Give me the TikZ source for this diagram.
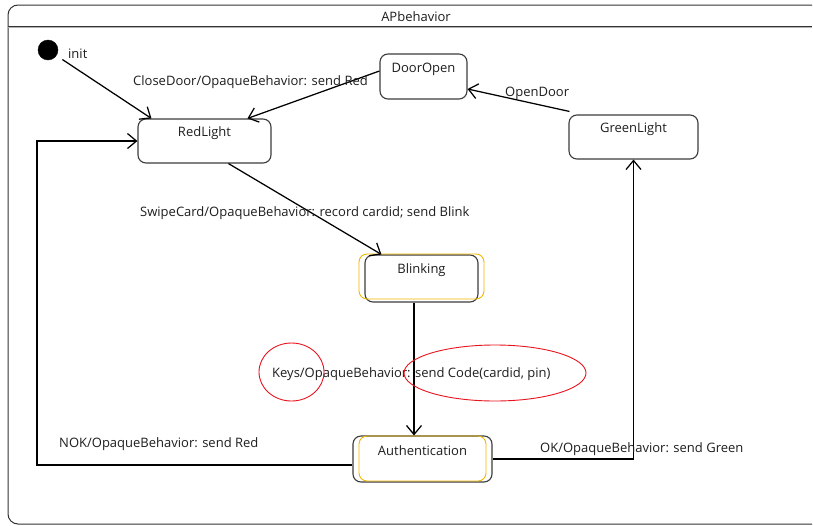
\documentclass[tikz,border=0pt]{standalone}
\usepackage{fontspec}
\setmainfont{Open Sans}
\usetikzlibrary{arrows.meta,calc}
\definecolor{frameC}{HTML}{333333}
\definecolor{boxC}{HTML}{3C3C3C}
\definecolor{txtC}{HTML}{1E1E1E}
\definecolor{yel}{HTML}{F2B800}
\definecolor{annot}{HTML}{E8141E}
\tikzset{
  stbox/.style={draw=boxC, line width=1.1pt, rounded corners=8pt, fill=white, inner sep=0pt},
  hl/.style={draw=yel, line width=0.9pt, rounded corners=8pt, inner sep=0pt},
  lbl/.style={font=\fontsize{13}{15}\selectfont, text=txtC, inner sep=0pt, anchor=west},
  tr/.style={draw=black, line width=1.25pt, -{Straight Barb[length=9pt,width=15pt,line width=1.25pt]}},
  ann/.style={draw=annot, line width=0.9pt}
}
\begin{document}
\begin{tikzpicture}[x=1pt,y=-1pt]
\useasboundingbox (0,0) rectangle (813,525);
\fill[white] (0,0) rectangle (813,525);
% frame
\draw[frameC, line width=1pt, rounded corners=10pt] (812,5) -- (8,5) -- (8,524) -- (812,524);
\draw[gray!60, line width=2pt] (8,26.8) -- (812,26.8);
\draw[frameC, line width=0.8pt] (8,26) -- (812,26);
\node[lbl, anchor=center] (title) at (416,16.5) {APbehavior};
% states
\node[draw, fill=black, circle, minimum size=20pt, inner sep=0pt] (init) at (48,50) {};
\node[lbl] (initlbl) at (68,54) {init};
\node[stbox, minimum width=133pt, minimum height=44pt, label={[name=redT,lbl,anchor=center,yshift=-15pt]north:RedLight}] (red) at (204.5,141) {};
\node[stbox, minimum width=87pt, minimum height=45pt, label={[name=doorT,lbl,anchor=center,yshift=-15.5pt]north:DoorOpen}] (door) at (423.5,76.5) {};
\node[stbox, minimum width=129pt, minimum height=44pt, label={[name=greenT,lbl,anchor=center,yshift=-15pt]north:GreenLight}] (green) at (633.5,137) {};
\node[stbox, minimum width=113pt, minimum height=47pt, label={[name=blinkT,lbl,anchor=center,yshift=-15.5pt]north:Blinking}] (blink) at (421.5,278.5) {};
\node[hl, minimum width=125pt, minimum height=45pt] (blinkhl) at (421.5,276.5) {};
\node[stbox, minimum width=139pt, minimum height=46pt, label={[name=authT,lbl,anchor=center,yshift=-15.5pt]north:Authentication}] (auth) at (422.5,459) {};
\node[hl, minimum width=127pt, minimum height=45pt] (authhl) at (422.5,458.5) {};
% transitions
\draw[tr, shorten <=7pt] (init) -- ([xshift=14pt]red.north west);
\draw[tr] ([yshift=5.5pt]door.west) -- ([xshift=110pt]red.north west);
\draw[tr] ([xshift=1pt,yshift=3pt]green.north west) -- ([yshift=-12.5pt]door.east);
\draw[tr] ([xshift=91pt]red.south west) -- ([xshift=17pt]blink.north west);
\draw[tr] ([xshift=-7.5pt]blink.south) -- ([xshift=-7.5pt]blink.south |- auth.north);
\coordinate (lc) at (37,465);
\draw[tr] ([yshift=-6pt]auth.west) -- (lc) |- (red.west);
\draw[tr] (auth.east) -| (green.south);
% transition labels
\node[lbl] (l1) at (133,82.5) {CloseDoor/OpaqueBehavior: send Red};
\node[lbl] (l2) at (505,93.5) {OpenDoor};
\node[lbl] (l3) at (140,213.5) {SwipeCard/OpaqueBehavior: record cardid; send Blink};
\node[lbl] (l4) at (272,374.5) {Keys/OpaqueBehavior: send Code(cardid, pin)};
\node[lbl] (l5) at (59,444.5) {NOK/OpaqueBehavior: send Red};
\node[lbl] (l6) at (540,449.5) {OK/OpaqueBehavior: send Green};
% annotations
\draw[ann] (291.5,372) ellipse [x radius=32.5, y radius=29];
\draw[ann] (495,373) ellipse [x radius=91, y radius=28];
\end{tikzpicture}
\end{document}
